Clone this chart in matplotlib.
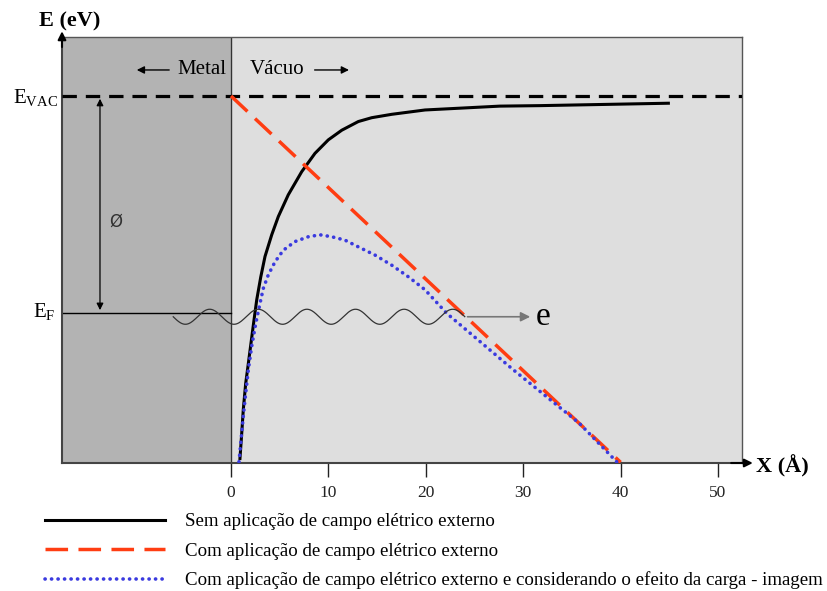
import numpy as np
import matplotlib
matplotlib.use('Agg')
import matplotlib.pyplot as plt

plt.rcParams['font.family'] = ['Liberation Serif', 'DejaVu Serif']
plt.rcParams['mathtext.fontset'] = 'custom'
plt.rcParams['mathtext.rm'] = 'Liberation Serif'

# energias relativas ao vácuo (eV), distância em Angstrom
E_VAC = 0.0
E_F = -4.5

# sem campo elétrico externo
x_sem = [0.92, 1.10, 1.26, 1.51, 1.78, 2.05, 2.36, 2.64, 3.05, 3.49, 4.18, 4.86, 5.88, 7.26, 8.62,
         9.99, 11.37, 13.07, 14.45, 16.5, 19.92, 27.6, 31.7, 44.9]
E_sem = [-7.52, -7.00, -6.51, -5.96, -5.55, -5.13, -4.65, -4.23, -3.76, -3.33, -2.88, -2.50, -2.05, -1.57, -1.19,
         -0.91, -0.71, -0.53, -0.45, -0.38, -0.29, -0.21, -0.20, -0.15]

# com campo elétrico externo
x_com = [0.0, 40.0]
E_com = [0.0, -7.6]

# com campo + carga-imagem
x_img = [0.82, 1.03, 1.26, 1.51, 1.78, 2.12, 2.54, 2.98, 3.32, 3.83, 4.52, 5.37, 6.57, 7.94, 9.14,
         10.34, 11.70, 13.07, 14.78, 16.50, 18.20, 19.92, 22.15, 28.98, 35.76, 39.60]
E_img = [-7.59, -7.14, -6.65, -6.17, -5.68, -5.20, -4.72, -4.30, -3.99, -3.71, -3.44, -3.20, -3.02, -2.92, -2.88,
         -2.92, -2.99, -3.13, -3.30, -3.51, -3.75, -4.02, -4.51, -5.68, -6.79, -7.59]

xticks = [0, 10, 20, 30, 40, 50]
labels = ['Sem aplicação de campo elétrico externo',
          'Com aplicação de campo elétrico externo',
          'Com aplicação de campo elétrico externo e considerando o efeito da carga - imagem']

fig = plt.figure(figsize=(8.27, 5.91), dpi=100)
ax = fig.add_axes([62/827, 1-463/591, 680/827, 426/591])
xmin, xmax = -17.35, 52.46
ymin, ymax = -7.614, 1.224
ax.set_xlim(xmin, xmax)
ax.set_ylim(ymin, ymax)

# regiões metal / vácuo
ax.axvspan(xmin, 0, color='#b3b3b3', zorder=0)
ax.axvspan(0, xmax, color='#dedede', zorder=0)
ax.axvline(0, color='#333333', lw=1, zorder=1)

ax.plot([xmin, 0], [E_F, E_F], color='black', lw=1, zorder=2)
ax.plot([xmin, xmax], [E_VAC, E_VAC], color='black', lw=2.3, ls=(0, (4.5, 2.8)), zorder=3)

l1, = ax.plot(x_sem, E_sem, color='black', lw=2.2, zorder=4, solid_joinstyle='round')
l2, = ax.plot(x_com, E_com, color='#ff3d12', lw=2.5, ls=(0, (6.5, 3)), zorder=4)
l3, = ax.plot(x_img, E_img, color='#3a3adf', lw=2.6, ls=(0, (0.05, 1.75)),
              dash_capstyle='round', zorder=5)

# onda do elétron
xw = np.linspace(-5.93, 24.0, 600)
ax.plot(xw, -4.58 - 0.156*np.sin(2*np.pi*(xw + 5.93)/4.99), color='#333333', lw=0.9, zorder=6)
ax.annotate('', xy=(31.0, -4.58), xytext=(24.0, -4.58),
            arrowprops=dict(arrowstyle='-|>', color='#777777', lw=1.2, mutation_scale=14), zorder=6)
ax.text(31.3, -4.58, 'e', fontsize=24, va='center', ha='left')

# função trabalho
ax.annotate('', xy=(-13.45, E_F), xytext=(-13.45, E_VAC),
            arrowprops=dict(arrowstyle='<|-|>', color='black', lw=0.9, mutation_scale=10))
ax.text(-11.8, -2.61, 'Ø', fontsize=12, family='DejaVu Sans', color='#333333', va='center', ha='center')

# metal / vácuo
ax.text(-0.5, 0.54, 'Metal', fontsize=15, ha='right', va='center')
ax.annotate('', xy=(-9.96, 0.54), xytext=(-6.06, 0.54),
            arrowprops=dict(arrowstyle='-|>', color='black', lw=1, mutation_scale=11))
ax.text(1.95, 0.54, 'Vácuo', fontsize=15, ha='left', va='center')
ax.annotate('', xy=(12.4, 0.54), xytext=(8.3, 0.54),
            arrowprops=dict(arrowstyle='-|>', color='black', lw=1, mutation_scale=11))

# eixos
for s in ['top', 'right']:
    ax.spines[s].set_color('#555555')
    ax.spines[s].set_linewidth(1)
for s in ['left', 'bottom']:
    ax.spines[s].set_color('#444444')
    ax.spines[s].set_linewidth(1.5)
ax.set_yticks([])
ax.set_xticks(xticks)
ax.tick_params(axis='x', direction='out', length=10, width=1, pad=6, labelsize=12.5, colors='#222222')

ax.annotate('', xy=(0, 1.02), xytext=(0, 0.97), xycoords='axes fraction',
            arrowprops=dict(arrowstyle='-|>', color='black', lw=1.5, mutation_scale=12))
ax.annotate('', xy=(1.02, 0), xytext=(0.98, 0), xycoords='axes fraction',
            arrowprops=dict(arrowstyle='-|>', color='black', lw=1.5, mutation_scale=12))

fig.text(70/827, 1-21/591, 'E (eV)', fontsize=16, fontweight='bold', ha='center', va='center')
fig.text(756/827, 1-466/591, 'X (Å)', fontsize=16, fontweight='bold', ha='left', va='center')
fig.text(58/827, 1-98/591, r'$\mathrm{E_{VAC}}$', fontsize=15, ha='right', va='center')
fig.text(55/827, 1-312/591, r'$\mathrm{E_{F}}$', fontsize=15, ha='right', va='center')

fig.legend([l1, l2, l3], labels, loc='upper left', bbox_to_anchor=(45/827, 1-513/591),
           frameon=False, fontsize=13.6, handlelength=6.35, handletextpad=1.06,
           labelspacing=0.64, borderpad=0, borderaxespad=0)

fig.savefig('out.png', dpi=100)
